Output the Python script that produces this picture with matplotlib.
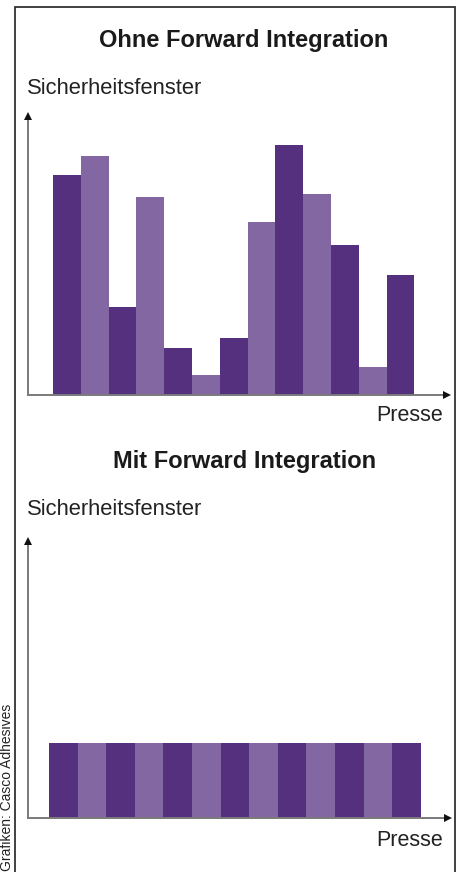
import matplotlib
matplotlib.use("Agg")
import matplotlib.pyplot as plt
from matplotlib.patches import Rectangle

plt.rcParams['font.family'] = ['Liberation Sans', 'DejaVu Sans']

# ---- data ----
top_title = "Ohne Forward Integration"
bottom_title = "Mit Forward Integration"
y_label = "Sicherheitsfenster"
x_label = "Presse"
source = "Grafiken: Casco Adhesives"

top_values = [220, 239, 88, 198, 47, 20, 57, 173, 250, 201, 150, 28, 120]
bottom_values = [75, 75, 75, 75, 75, 75, 75, 75, 75, 75, 75, 75, 75]

DARK = "#55307f"
LIGHT = "#8367a2"

W, H = 466, 872
fig = plt.figure(figsize=(W / 100, H / 100), dpi=100)

def fx(px):
    return px / W

def fy(py):
    return 1 - py / H

def make_axes(left, right, top, bottom, xlim, ymax, values):
    ax = fig.add_axes([fx(left), fy(bottom), fx(right) - fx(left), fy(top) - fy(bottom)])
    colors = [DARK if i % 2 == 0 else LIGHT for i in range(len(values))]
    ax.bar(range(len(values)), values, width=1.0, color=colors, linewidth=0)
    ax.set_xlim(*xlim)
    ax.set_ylim(0, ymax)
    for s in ax.spines.values():
        s.set_visible(False)
    ax.set_xticks([])
    ax.set_yticks([])
    ax.patch.set_alpha(0)
    # axis lines
    ax.plot([0, 0.985], [0, 0], transform=ax.transAxes, color="#7a7a7a", lw=1.4, clip_on=False, zorder=1)
    ax.plot([0, 0], [0, 0.985], transform=ax.transAxes, color="#7a7a7a", lw=1.4, clip_on=False, zorder=1)
    ax.plot([0.985], [0], marker=">", transform=ax.transAxes, color="#111111", ms=6, clip_on=False, markeredgewidth=0)
    ax.plot([0], [0.985], marker="^", transform=ax.transAxes, color="#111111", ms=6, clip_on=False, markeredgewidth=0)
    return ax

make_axes(28, 453, 112, 395, (-1.40, 13.89), 283, top_values)
make_axes(28, 454, 537, 818, (-1.234, 13.66), 281, bottom_values)

# texts
fig.text(fx(244), fy(41), top_title, ha="center", va="center", fontsize=17, fontweight="bold", color="#1a1a1a")
fig.text(fx(27), fy(89), y_label, ha="left", va="center", fontsize=15.8, color="#222222")
fig.text(fx(443), fy(415), x_label, ha="right", va="center", fontsize=15.5, color="#222222")

fig.text(fx(245), fy(461), bottom_title, ha="center", va="center", fontsize=17, fontweight="bold", color="#1a1a1a")
fig.text(fx(27), fy(509), y_label, ha="left", va="center", fontsize=15.8, color="#222222")
fig.text(fx(443), fy(840), x_label, ha="right", va="center", fontsize=15.5, color="#222222")

fig.text(fx(7), fy(704), source, rotation=90, ha="center", va="top", fontsize=10, color="#222222")

# border
fig.add_artist(Rectangle((fx(15), fy(880)), fx(455) - fx(15), fy(7) - fy(880),
                         transform=fig.transFigure, fill=False, edgecolor="#333333", lw=1.3))

fig.savefig("out.png", dpi=100, facecolor="white")
